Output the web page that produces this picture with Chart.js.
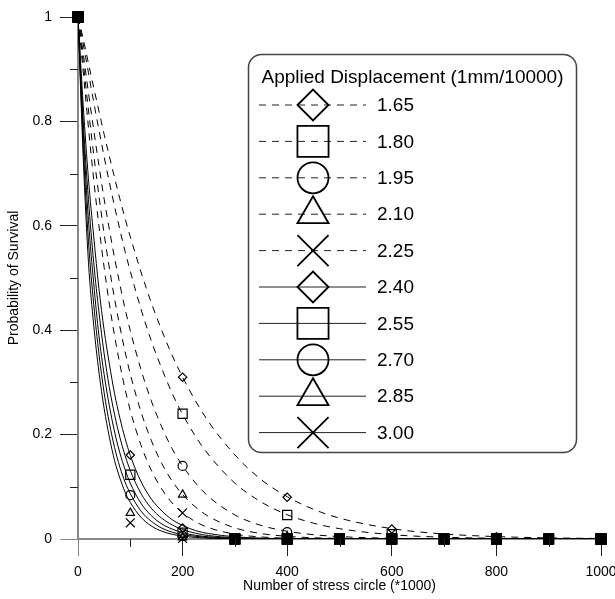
<!DOCTYPE html>
<html>
<head>
<meta charset="utf-8">
<script src="https://cdn.jsdelivr.net/npm/chart.js@4.4.1/dist/chart.umd.min.js"></script>
<style>
  html, body { margin: 0; padding: 0; background: #fff; }
  #wrap { width: 615px; height: 599px; }
</style>
</head>
<body>
<div id="wrap"><canvas id="survivalChart"></canvas></div>
<script>
// ============================================================================
// Data
// ============================================================================
const SERIES_LABELS = ['1.65', '1.80', '1.95', '2.10', '2.25', '2.40', '2.55', '2.70', '2.85', '3.00'];
const MARKER_STYLES = ['rectRot', 'rect', 'circle', 'triangle', 'crossRot', 'rectRot', 'rect', 'circle', 'triangle', 'crossRot'];

// x positions of the fitted curves
const CURVE_X = [0, 10, 20, 30, 40, 50, 60, 70, 80, 90, 100, 120, 140, 160, 180, 200, 225, 250, 300, 350, 400, 450, 500, 600, 700, 800, 900, 1000];

const curve165 = [1, 0.958, 0.911, 0.865, 0.820, 0.775, 0.733, 0.692, 0.652, 0.614, 0.579, 0.513, 0.453, 0.400, 0.352, 0.310, 0.264, 0.224, 0.161, 0.114, 0.081, 0.057, 0.040, 0.0198, 0.0096, 0.0046, 0.0022, 0.0010];
const curve180 = [1, 0.948, 0.893, 0.837, 0.784, 0.732, 0.683, 0.637, 0.593, 0.551, 0.513, 0.442, 0.380, 0.327, 0.279, 0.239, 0.196, 0.161, 0.107, 0.071, 0.0465, 0.0304, 0.0198, 0.0083, 0.0034, 0.0014, 0.0006, 0.0002];
const curve195 = [1, 0.930, 0.855, 0.784, 0.716, 0.651, 0.593, 0.538, 0.488, 0.441, 0.399, 0.326, 0.265, 0.215, 0.173, 0.140, 0.107, 0.081, 0.046, 0.026, 0.0148, 0.0083, 0.0046, 0.0014, 0.0004, 0.0001, 0, 0];
const curve210 = [1, 0.913, 0.822, 0.737, 0.658, 0.584, 0.519, 0.460, 0.407, 0.359, 0.316, 0.245, 0.189, 0.145, 0.111, 0.085, 0.061, 0.043, 0.0213, 0.0104, 0.0051, 0.0024, 0.0012, 0.0003, 0, 0, 0, 0];
const curve225 = [1, 0.895, 0.788, 0.689, 0.600, 0.520, 0.450, 0.389, 0.335, 0.287, 0.246, 0.181, 0.132, 0.096, 0.069, 0.050, 0.033, 0.0216, 0.0092, 0.0039, 0.0016, 0.0007, 0.0003, 0, 0, 0, 0, 0];
const curve240 = [1, 0.83, 0.69, 0.58, 0.48, 0.40, 0.335, 0.278, 0.232, 0.193, 0.160, 0.111, 0.077, 0.054, 0.037, 0.026, 0.016, 0.0104, 0.0042, 0.0017, 0.0007, 0.0003, 0, 0, 0, 0, 0, 0];
const curve255 = [1, 0.80, 0.65, 0.53, 0.435, 0.355, 0.29, 0.238, 0.195, 0.160, 0.131, 0.088, 0.059, 0.040, 0.027, 0.018, 0.011, 0.0065, 0.0024, 0.0009, 0.0003, 0, 0, 0, 0, 0, 0, 0];
const curve270 = [1, 0.78, 0.61, 0.49, 0.39, 0.315, 0.255, 0.205, 0.165, 0.133, 0.107, 0.069, 0.045, 0.029, 0.019, 0.012, 0.007, 0.0042, 0.0014, 0.0005, 0, 0, 0, 0, 0, 0, 0, 0];
const curve285 = [1, 0.755, 0.57, 0.45, 0.355, 0.28, 0.222, 0.175, 0.138, 0.109, 0.087, 0.054, 0.034, 0.021, 0.013, 0.0085, 0.005, 0.0027, 0.0009, 0.0003, 0, 0, 0, 0, 0, 0, 0, 0];
const curve300 = [1, 0.73, 0.53, 0.41, 0.32, 0.25, 0.195, 0.150, 0.117, 0.090, 0.070, 0.042, 0.025, 0.015, 0.009, 0.0055, 0.003, 0.0015, 0.0005, 0, 0, 0, 0, 0, 0, 0, 0, 0];

// measured points (markers)
const MARK_X_DASHED = [0, 200, 400, 600, 800, 1000];
const mark165 = [1, 0.31, 0.080, 0.019, 0.004, 0.001];
const mark180 = [1, 0.24, 0.046, 0.009, 0.001, 0];
const mark195 = [1, 0.14, 0.013, 0.002, 0, 0];
const mark210 = [1, 0.085, 0.005, 0.001, 0, 0];
const mark225 = [1, 0.050, 0.002, 0, 0, 0];

const MARK_X_SOLID = [0, 100, 200, 300, 400, 500, 600, 700, 800, 900, 1000];
const mark240 = [1, 0.161, 0.021, 0, 0, 0, 0, 0, 0, 0, 0];
const mark255 = [1, 0.123, 0.012, 0, 0, 0, 0, 0, 0, 0, 0];
const mark270 = [1, 0.084, 0.006, 0, 0, 0, 0, 0, 0, 0, 0];
const mark285 = [1, 0.050, 0.003, 0, 0, 0, 0, 0, 0, 0, 0];
const mark300 = [1, 0.031, 0.001, 0, 0, 0, 0, 0, 0, 0, 0];

const CURVES = [curve165, curve180, curve195, curve210, curve225, curve240, curve255, curve270, curve285, curve300];
const MARKS = [mark165, mark180, mark195, mark210, mark225, mark240, mark255, mark270, mark285, mark300];

const X_TICK_LABELS = [0, 200, 400, 600, 800, 1000];

// ============================================================================
// Styling helpers
// ============================================================================
const FONT = "'Liberation Sans', Arial, sans-serif";
const DASH = [7, 6];
const PLOT_RADIUS = { rectRot: 4.2, rect: 6.5, circle: 4.5, triangle: 4.8, crossRot: 6.3 };
const LEGEND_RADIUS = { rectRot: 15.5, rect: 22, circle: 15.5, triangle: 18, crossRot: 22 };

function isDashed(i) {
    return i < 5;
}

// points sitting on the axis (or the start point) pile up into a filled square
function isPile(ctx) {
    const p = ctx.raw;
    return p && (p.y === 0 || p.x === 0);
}

Chart.defaults.font.family = FONT;
Chart.defaults.color = '#000';

// ============================================================================
// Datasets
// ============================================================================
const datasets = [];
SERIES_LABELS.forEach((label, i) => {
    datasets.push({
        label: label,
        type: 'line',
        data: CURVE_X.map((x, k) => ({ x: x, y: CURVES[i][k] })),
        borderColor: '#000',
        borderWidth: 1,
        borderDash: isDashed(i) ? DASH : [],
        pointRadius: 0,
        fill: false,
        cubicInterpolationMode: 'monotone',
        order: 2
    });
});
SERIES_LABELS.forEach((label, i) => {
    const xs = isDashed(i) ? MARK_X_DASHED : MARK_X_SOLID;
    const style = MARKER_STYLES[i];
    datasets.push({
        label: label + ' pts',
        type: 'scatter',
        data: xs.map((x, k) => ({ x: x, y: MARKS[i][k] })),
        showLine: false,
        clip: false,
        pointStyle: ctx => isPile(ctx) ? 'rect' : style,
        pointRadius: ctx => isPile(ctx) ? 6.8 : PLOT_RADIUS[style],
        pointBorderColor: '#000',
        pointBackgroundColor: ctx => isPile(ctx) ? '#000' : 'rgba(0,0,0,0)',
        pointBorderWidth: 1.2,
        order: 1
    });
});

// ============================================================================
// Plugins: short minor ticks and the boxed legend
// ============================================================================
const minorTicks = {
    id: 'minorTicks',
    afterDraw(chart) {
        const { ctx } = chart;
        const xs = chart.scales.x;
        const ys = chart.scales.y;
        ctx.save();
        ctx.strokeStyle = '#222';
        ctx.lineWidth = 1;
        ctx.beginPath();
        xs.ticks.forEach(t => {
            if (t.value % 200 !== 0) {
                const px = Math.round(xs.getPixelForValue(t.value)) + 0.5;
                ctx.moveTo(px, xs.top);
                ctx.lineTo(px, xs.top + 8);
            }
        });
        ys.ticks.forEach(t => {
            if (Math.round(t.value * 10) % 2 === 1) {
                const py = Math.round(ys.getPixelForValue(t.value)) + 0.5;
                ctx.moveTo(ys.right - 8, py);
                ctx.lineTo(ys.right, py);
            }
        });
        ctx.stroke();
        ctx.restore();
    }
};

const legendBox = {
    id: 'legendBox',
    afterDraw(chart) {
        const { ctx } = chart;
        const bx = 248.5, by = 54.5, bw = 328, bh = 398, r = 13;
        ctx.save();
        ctx.beginPath();
        ctx.moveTo(bx + r, by);
        ctx.arcTo(bx + bw, by, bx + bw, by + bh, r);
        ctx.arcTo(bx + bw, by + bh, bx, by + bh, r);
        ctx.arcTo(bx, by + bh, bx, by, r);
        ctx.arcTo(bx, by, bx + bw, by, r);
        ctx.closePath();
        ctx.fillStyle = '#fff';
        ctx.fill();
        ctx.strokeStyle = '#444';
        ctx.lineWidth = 1.5;
        ctx.stroke();

        ctx.fillStyle = '#000';
        ctx.font = '19px ' + FONT;
        ctx.textAlign = 'center';
        ctx.textBaseline = 'alphabetic';
        ctx.fillText('Applied Displacement (1mm/10000)', bx + bw / 2, 83);

        SERIES_LABELS.forEach((label, i) => {
            const y = 105 + i * 36.4;
            ctx.strokeStyle = '#222';
            ctx.lineWidth = 1;
            ctx.setLineDash(isDashed(i) ? DASH : []);
            ctx.beginPath();
            ctx.moveTo(259, y);
            ctx.lineTo(366, y);
            ctx.stroke();
            ctx.setLineDash([]);

            const style = MARKER_STYLES[i];
            ctx.strokeStyle = '#000';
            ctx.fillStyle = 'rgba(0,0,0,0)';
            ctx.lineWidth = 1.8;
            Chart.helpers.drawPoint(ctx, {
                pointStyle: style,
                radius: LEGEND_RADIUS[style],
                rotation: 0,
                borderWidth: 1.8
            }, 313, y);

            ctx.fillStyle = '#000';
            ctx.font = '19px ' + FONT;
            ctx.textAlign = 'left';
            ctx.textBaseline = 'middle';
            ctx.fillText(label, 377, y + 1);
        });
        ctx.restore();
    }
};

// ============================================================================
// Chart
// ============================================================================
new Chart(document.getElementById('survivalChart'), {
    type: 'scatter',
    data: { datasets: datasets },
    options: {
        responsive: true,
        maintainAspectRatio: false,
        animation: false,
        layout: { padding: { top: 17, right: 14, left: 0, bottom: 0 } },
        plugins: {
            legend: { display: false },
            tooltip: { enabled: false }
        },
        scales: {
            x: {
                type: 'linear',
                min: 0,
                max: 1000,
                ticks: {
                    stepSize: 100,
                    autoSkip: false,
                    maxRotation: 0,
                    padding: 8,
                    font: { size: 14 },
                    callback: v => X_TICK_LABELS.includes(v) ? String(v) : ''
                },
                grid: {
                    drawOnChartArea: false,
                    drawTicks: true,
                    tickLength: 17,
                    tickWidth: 1,
                    tickColor: ctx => (ctx.tick && ctx.tick.value % 200 === 0) ? (ctx.tick.value === 0 ? '#888' : '#222') : 'rgba(0,0,0,0)'
                },
                border: { display: true, color: '#888', width: 2 },
                title: {
                    display: true,
                    text: 'Number of stress circle (*1000)',
                    font: { size: 14 },
                    padding: { top: 0, bottom: 4 }
                },
                afterFit(scale) {
                    scale.height = 60;
                    scale.paddingLeft = 0;
                    scale.paddingRight = 0;
                }
            },
            y: {
                type: 'linear',
                min: 0,
                max: 1,
                ticks: {
                    stepSize: 0.1,
                    autoSkip: false,
                    padding: 8,
                    font: { size: 14 },
                    callback: v => {
                        const n = Math.round(v * 10);
                        if (n % 2 !== 0) return '';
                        if (n === 0) return '0';
                        if (n === 10) return '1';
                        return (n / 10).toFixed(1);
                    }
                },
                grid: {
                    drawOnChartArea: false,
                    drawTicks: true,
                    tickLength: 18,
                    tickWidth: 1,
                    tickColor: ctx => (ctx.tick && Math.round(ctx.tick.value * 10) % 2 === 0) ? (ctx.tick.value === 0 ? '#888' : '#222') : 'rgba(0,0,0,0)'
                },
                border: { display: true, color: '#888', width: 2 },
                title: {
                    display: true,
                    text: 'Probability of Survival',
                    font: { size: 14 },
                    padding: { top: 6, bottom: 0 }
                },
                afterFit(scale) {
                    scale.width = 78;
                    scale.paddingTop = 0;
                    scale.paddingBottom = 0;
                }
            }
        }
    },
    plugins: [minorTicks, legendBox]
});
</script>
</body>
</html>
